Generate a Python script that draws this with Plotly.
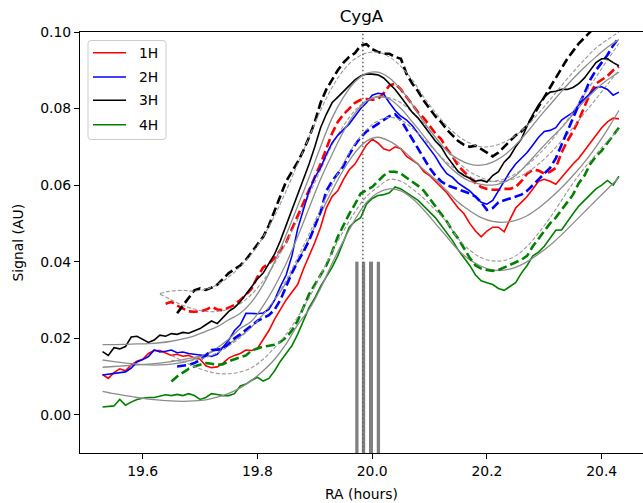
import numpy as np
import plotly.graph_objects as go

# ---------------- sampling grids (RA, hours) ----------------
RA_SOLID = np.round(np.arange(19.53, 20.435, 0.01), 2)      # 91 samples
RA_RED_DASH = np.round(np.arange(19.64, 20.435, 0.01), 2)   # 80
RA_BLK_DASH = np.round(np.arange(19.66, 20.435, 0.01), 2)   # 78
RA_BLU_DASH = np.round(np.arange(19.66, 20.435, 0.01), 2)   # 78
RA_GRN_DASH = np.round(np.arange(19.65, 20.435, 0.01), 2)   # 79
RA_FIT = np.round(np.arange(19.53, 20.44, 0.02), 2)         # 46
RA_FIT_DASH_A = np.round(np.arange(19.63, 20.44, 0.02), 2)  # 41 (1H, 3H)
RA_FIT_DASH_B = np.round(np.arange(19.65, 20.44, 0.02), 2)  # 40 (2H, 4H)

# ---------------- signal values, units of 1e-3 AU ----------------
H1_SOLID = [10.5, 9.5, 11.0, 12.0, 11.5, 13.0, 14.0, 14.5, 16.0, 16.8,
            16.8, 16.2, 15.5, 15.8, 15.3, 15.5, 14.8, 14.5, 12.8, 12.3,
            12.5, 13.5, 14.8, 15.5, 16.0, 16.9, 16.8, 17.3, 19.5, 22.0,
            25.0, 27.5, 30.0, 32.0, 34.0, 38.0, 41.5, 45.0, 49.0, 54.0,
            57.0, 58.5, 61.5, 64.0, 65.5, 68.0, 70.5, 72.0, 71.0, 69.5,
            69.0, 70.0, 69.5, 67.5, 66.5, 65.5, 63.5, 62.5, 61.0, 59.5,
            58.0, 56.0, 54.0, 52.5, 50.0, 48.0, 46.5, 48.0, 49.0, 49.0,
            47.8, 51.0, 54.0, 55.5, 57.0, 59.0, 61.0, 61.5, 61.0, 60.2,
            62.0, 64.0, 65.5, 67.0, 69.0, 71.0, 73.0, 75.0, 76.5, 77.5,
            77.3]
H2_SOLID = [10.4, 10.6, 10.9, 11.0, 11.2, 12.2, 13.8, 14.4, 15.2, 16.9,
            16.4, 16.6, 16.9, 16.2, 16.4, 16.0, 15.8, 15.5, 15.3, 15.2,
            15.8, 17.5, 19.5, 22.0, 23.5, 26.5, 26.5, 26.4, 26.6, 27.5,
            30.0, 33.5, 36.5, 41.5, 48.5, 53.5, 58.5, 62.0, 64.5, 68.0,
            71.0, 73.0, 74.5, 76.0, 78.0, 80.0, 81.5, 83.5, 84.0, 83.8,
            81.5, 79.5, 78.0, 77.0, 75.5, 73.5, 71.5, 69.5, 67.5, 65.0,
            63.0, 62.0, 60.5, 59.5, 58.5, 57.0, 55.5, 55.0, 56.0, 58.5,
            61.0, 63.5, 65.5, 67.0, 68.5, 70.5, 72.5, 74.0, 74.3, 75.0,
            77.0, 78.0, 79.0, 81.0, 82.5, 84.0, 85.5, 85.7, 85.0, 83.5,
            84.3]
H3_SOLID = [16.5, 15.5, 17.5, 17.2, 17.8, 20.3, 20.5, 19.6, 18.9, 19.5,
            20.8, 20.5, 21.2, 21.0, 21.5, 21.3, 21.8, 22.5, 23.5, 24.5,
            23.8, 25.5, 27.0, 28.0, 29.5, 31.5, 33.5, 35.5, 37.0, 39.5,
            42.0, 45.5, 49.5, 53.0, 57.5, 61.5, 65.5, 70.0, 75.0, 78.5,
            81.5, 83.0, 84.5, 86.0, 87.5, 88.5, 89.0, 89.0, 88.8, 88.0,
            86.5, 85.0, 83.0, 81.0, 79.0, 77.5, 75.5, 73.5, 71.5, 70.0,
            67.5, 65.5, 63.5, 62.5, 61.8, 61.0, 61.3, 60.8, 62.5, 63.5,
            66.0, 67.5, 70.0, 72.0, 75.5, 78.5, 81.0, 83.0, 84.3, 84.5,
            85.0, 85.0, 85.5, 86.5, 88.0, 90.0, 92.0, 93.0, 93.0, 92.0,
            91.2]
H4_SOLID = [2.0, 2.2, 2.3, 4.0, 2.5, 3.3, 4.0, 4.3, 4.5, 4.5,
            4.8, 5.2, 5.0, 5.3, 5.0, 5.5, 5.0, 4.0, 4.5, 5.5,
            5.3, 5.0, 5.0, 5.5, 7.5, 8.0, 9.0, 9.8, 8.8, 9.5,
            11.5, 14.0, 16.0, 18.0, 21.0, 24.5, 28.0, 30.5, 33.5, 36.0,
            38.5, 41.5, 45.5, 49.0, 50.5, 51.5, 55.0, 56.5, 57.3, 57.5,
            58.0, 59.5, 59.0, 58.0, 57.0, 56.0, 54.5, 53.0, 51.5, 49.5,
            47.5, 45.5, 43.0, 41.0, 39.0, 36.5, 35.0, 34.5, 34.0, 33.0,
            32.5, 33.5, 34.5, 37.0, 39.0, 41.5, 42.5, 44.0, 46.0, 48.2,
            48.3, 50.5, 52.5, 54.5, 56.0, 57.5, 59.0, 60.0, 61.2, 60.0,
            62.3]

H1_DASH = [29.0, 29.5, 28.5, 27.8, 27.0, 26.9, 27.0, 27.4, 28.2, 27.5,
           27.3, 28.0, 28.7, 30.0, 31.3, 33.0, 36.0, 38.5, 39.5, 41.0,
           43.0, 45.0, 48.5, 52.0, 55.5, 59.0, 62.0, 65.5, 69.5, 73.5,
           76.5, 78.5, 80.0, 81.5, 82.3, 82.5, 82.3, 82.5, 84.0, 86.0,
           86.5, 85.0, 83.0, 81.0, 79.0, 77.5, 75.5, 73.5, 72.0, 69.5,
           67.5, 65.0, 63.5, 62.0, 60.5, 59.5, 59.0, 58.8, 58.8, 59.0,
           59.0, 59.5, 61.0, 63.0, 64.0, 63.8, 63.0, 63.5, 64.5, 68.5,
           71.5, 74.0, 77.0, 80.5, 84.0, 86.5, 87.5, 88.5, 90.0, 91.0]
H3_DASH = [26.5, 28.5, 30.5, 32.5, 33.0, 32.6, 33.2, 34.0, 35.5, 37.0,
           38.0, 39.0, 40.5, 42.5, 44.5, 46.5, 49.5, 53.5, 57.5, 61.0,
           63.5, 66.0, 69.0, 72.5, 76.5, 81.5, 85.0, 87.5, 90.0, 92.0,
           93.5, 94.5, 96.5, 96.8, 95.5, 94.8, 94.3, 94.3, 93.5, 93.0,
           89.0, 86.5, 84.5, 82.0, 80.0, 78.0, 76.5, 74.5, 73.0, 71.5,
           70.5, 70.0, 70.3, 69.5, 68.5, 67.5, 68.5, 70.0, 71.5, 73.0,
           74.0, 75.5, 78.0, 80.5, 83.0, 85.5, 88.0, 90.5, 93.0, 95.0,
           97.0, 98.5, 100.0, 102.0, 104.0, 106.0, 108.0, 110.0]
H2_DASH = [12.6, 12.8, 13.0, 13.5, 14.3, 15.5, 16.9, 17.0, 17.2, 18.5,
           20.0, 21.0, 22.2, 23.5, 24.5, 25.3, 26.0, 27.5, 30.0, 33.5,
           37.0, 40.0, 42.5, 45.5, 49.0, 53.0, 58.5, 61.0, 63.0, 65.0,
           68.0, 70.5, 72.5, 74.0, 75.0, 76.0, 77.0, 78.0, 78.5, 77.0,
           74.5, 72.0, 69.5, 67.0, 64.5, 62.5, 61.0, 60.0, 59.5, 59.0,
           58.5, 57.8, 57.0, 55.5, 53.5, 54.0, 55.5, 56.0, 56.5, 57.0,
           57.5, 58.5, 60.0, 61.5, 63.0, 64.5, 67.0, 70.5, 74.0, 77.5,
           81.0, 84.0, 87.5, 90.0, 92.0, 94.0, 96.5, 98.5]
H4_DASH = [8.7, 10.0, 11.0, 12.0, 12.6, 13.0, 13.5, 13.3, 13.0, 13.2,
           14.0, 14.5, 15.0, 15.5, 16.8, 17.3, 17.8, 18.0, 18.3, 19.0,
           20.2, 22.0, 24.5, 28.0, 31.5, 34.0, 36.5, 39.0, 42.5, 46.5,
           49.5, 52.5, 55.0, 57.8, 58.7, 59.5, 61.0, 62.5, 63.5, 63.5,
           63.0, 62.0, 61.0, 59.8, 58.5, 56.5, 54.5, 52.5, 50.5, 48.0,
           46.0, 43.5, 41.0, 39.0, 38.2, 37.8, 37.6, 37.8, 38.5, 39.0,
           39.8, 40.5, 41.5, 44.0, 46.0, 48.0, 50.0, 51.5, 53.5, 55.5,
           57.5, 60.5, 62.5, 65.5, 67.5, 69.0, 71.0, 73.0, 75.0]

# fitted models (grey)
H1_FIT = [12.4, 12.6, 12.8, 13.0, 13.2, 13.5, 13.9, 14.4, 15.0, 15.8,
          17.0, 18.5, 20.5, 23.0, 26.2, 30.0, 34.5, 40.0, 46.0, 52.5,
          58.5, 64.0, 68.5, 71.5, 72.5, 71.5, 69.5, 66.8, 64.0, 61.5,
          58.5, 55.5, 53.3, 51.5, 50.5, 50.3, 50.8, 52.0, 54.0, 56.5,
          59.3, 62.5, 66.0, 70.0, 74.5, 79.5]
H2_FIT = [14.3, 13.9, 13.5, 13.2, 13.0, 13.0, 13.2, 13.7, 14.5, 15.8,
          17.5, 19.8, 22.5, 24.5, 28.5, 33.5, 39.5, 46.5, 54.0, 61.5,
          68.0, 74.0, 78.8, 82.0, 83.2, 82.5, 80.0, 76.5, 72.8, 69.0,
          65.5, 62.8, 61.0, 60.2, 60.0, 60.8, 62.5, 65.5, 68.8, 72.0,
          75.0, 78.5, 82.0, 85.0, 87.5, 89.5]
H3_FIT = [18.3, 18.3, 18.4, 18.5, 18.6, 18.8, 19.2, 19.8, 20.6, 21.8,
          23.0, 24.8, 26.5, 29.5, 34.0, 40.0, 47.0, 54.5, 62.0, 70.0,
          77.5, 83.0, 87.0, 89.2, 89.5, 88.0, 85.0, 81.0, 76.5, 72.5,
          69.0, 66.8, 65.5, 65.2, 66.0, 67.8, 70.5, 73.8, 77.5, 81.0,
          84.5, 87.8, 90.8, 93.5, 96.0, 98.0]
H4_FIT = [6.1, 5.5, 5.0, 4.5, 4.1, 3.8, 3.6, 3.5, 3.6, 3.9,
          4.6, 5.6, 7.0, 9.0, 11.5, 14.5, 18.5, 23.5, 27.5, 33.0,
          39.5, 45.5, 51.0, 55.5, 58.0, 59.0, 58.5, 56.5, 53.5, 50.0,
          46.5, 43.0, 40.5, 38.8, 37.8, 37.8, 38.5, 40.0, 42.0, 44.3,
          47.0, 50.0, 53.0, 56.0, 59.0, 62.0]
H1_DASH_FIT = [31.5, 30.0, 28.6, 27.6, 27.0, 27.0, 27.6, 29.0, 31.5, 35.0,
               39.5, 45.0, 51.0, 57.5, 64.0, 70.5, 75.5, 79.5, 82.0, 83.0,
               82.8, 81.5, 79.0, 76.0, 72.5, 69.0, 66.0, 63.5, 62.0, 61.0,
               61.0, 61.8, 63.3, 65.5, 68.3, 71.5, 75.0, 78.8, 82.5, 86.3,
               90.0]
H3_DASH_FIT = [31.7, 32.3, 32.5, 32.3, 32.8, 34.0, 36.0, 38.7, 42.0, 46.5,
               52.0, 58.5, 65.5, 72.5, 79.5, 85.5, 90.0, 93.0, 94.5, 94.7,
               93.5, 91.0, 87.5, 83.0, 79.0, 75.5, 72.8, 71.0, 70.0, 70.2,
               71.2, 73.0, 75.5, 78.8, 82.3, 86.0, 89.5, 92.8, 95.8, 98.0,
               100.0]
H2_DASH_FIT = [14.2, 14.0, 14.2, 15.0, 16.2, 18.0, 20.2, 23.0, 26.2, 30.2,
               35.2, 41.0, 47.2, 53.8, 60.0, 65.8, 70.8, 74.5, 76.8, 77.7,
               77.0, 74.8, 72.0, 69.0, 66.0, 63.7, 62.0, 61.2, 61.0, 61.6,
               63.0, 65.2, 68.0, 71.2, 75.0, 79.2, 83.7, 88.2, 92.7, 97.0]
H4_DASH_FIT = [15.5, 14.0, 12.6, 11.5, 10.8, 10.7, 11.2, 12.3, 14.5, 17.5,
               21.0, 25.5, 30.5, 36.5, 42.5, 48.0, 53.0, 57.0, 59.5, 61.5,
               61.0, 59.0, 56.5, 53.5, 50.3, 46.0, 43.0, 41.0, 40.2, 40.3,
               41.5, 44.0, 47.5, 51.5, 56.0, 60.5, 64.5, 68.0, 71.5, 74.5]

# transit markers (RA, hours)
TRANSIT_RA = 19.9837
MARKER_RA = [19.9733, 19.9849, 19.9979, 20.0108]
MARKER_TOP = 0.040

HARMONICS = ["1H", "2H", "3H", "4H"]
TICK_X = [19.6, 19.8, 20.0, 20.2, 20.4]
TICK_X_TEXT = ["19.6", "19.8", "20.0", "20.2", "20.4"]
TICK_Y = [0.0, 0.02, 0.04, 0.06, 0.08, 0.10]
TICK_Y_TEXT = ["0.00", "0.02", "0.04", "0.06", "0.08", "0.10"]

MILLI = 1e-3

# ---------------- figure ----------------
W, H = 643, 503
ML, MR, MT, MB = 80, 0, 32, 50
PW, PH = W - ML - MR, H - MT - MB
FONT = "DejaVu Sans"

def px_x(px):
    return (px - ML) / PW

def px_y(py):
    return (MT + PH - py) / PH

fig = go.Figure()

series = [
    ("#ff0000", RA_SOLID, H1_SOLID, RA_FIT, H1_FIT, RA_RED_DASH, H1_DASH, RA_FIT_DASH_A, H1_DASH_FIT),
    ("#0000ff", RA_SOLID, H2_SOLID, RA_FIT, H2_FIT, RA_BLU_DASH, H2_DASH, RA_FIT_DASH_B, H2_DASH_FIT),
    ("#000000", RA_SOLID, H3_SOLID, RA_FIT, H3_FIT, RA_BLK_DASH, H3_DASH, RA_FIT_DASH_A, H3_DASH_FIT),
    ("#008000", RA_SOLID, H4_SOLID, RA_FIT, H4_FIT, RA_GRN_DASH, H4_DASH, RA_FIT_DASH_B, H4_DASH_FIT),
]

for name, (col, xs, ys, xf, yf, xd, yd, xdf, ydf) in zip(HARMONICS, series):
    fig.add_trace(go.Scatter(x=xs, y=np.array(ys) * MILLI, mode="lines", name=name,
                             line=dict(color=col, width=1.6), showlegend=False))
    fig.add_trace(go.Scatter(x=xf, y=np.array(yf) * MILLI, mode="lines",
                             line=dict(color="#8c8c8c", width=1.3, shape="spline"),
                             showlegend=False))
    fig.add_trace(go.Scatter(x=xd, y=np.array(yd) * MILLI, mode="lines",
                             line=dict(color=col, width=2.6, dash="9px,4px"),
                             showlegend=False))
    fig.add_trace(go.Scatter(x=xdf, y=np.array(ydf) * MILLI, mode="lines",
                             line=dict(color="#999999", width=1.1, dash="4px,2px", shape="spline"),
                             showlegend=False))

for i, ra in enumerate(MARKER_RA):
    fig.add_trace(go.Scatter(x=[ra, ra], y=[-0.02, MARKER_TOP], mode="lines",
                             line=dict(color="#808080", width=4.0 if i == 2 else 3.3),
                             showlegend=False))
fig.add_trace(go.Scatter(x=[TRANSIT_RA, TRANSIT_RA], y=[-0.02, 0.12], mode="lines",
                         line=dict(color="#606060", width=1.5, dash="1.5px,2.5px"),
                         showlegend=False))

# ---- legend (drawn manually to mimic matplotlib box) ----
lx0, lx1, ly0, ly1 = px_x(88), px_x(166), px_y(139.5), px_y(40.5)
rx, ry = 3 / PW, 3 / PH
path = (f"M {lx0+rx},{ly0} L {lx1-rx},{ly0} Q {lx1},{ly0} {lx1},{ly0+ry} "
        f"L {lx1},{ly1-ry} Q {lx1},{ly1} {lx1-rx},{ly1} L {lx0+rx},{ly1} "
        f"Q {lx0},{ly1} {lx0},{ly1-ry} L {lx0},{ly0+ry} Q {lx0},{ly0} {lx0+rx},{ly0} Z")
shapes = [dict(type="path", xref="paper", yref="paper", path=path,
               fillcolor="rgba(255,255,255,0.8)", line=dict(color="#cccccc", width=1))]
annotations = []
legend_rows = [52.7, 77.0, 100.3, 124.7]
for name, (col, *_), py in zip(HARMONICS, series, legend_rows):
    shapes.append(dict(type="line", xref="paper", yref="paper",
                       x0=px_x(93), x1=px_x(126), y0=px_y(py), y1=px_y(py),
                       line=dict(color=col, width=1.6)))
    annotations.append(dict(text=name, xref="paper", yref="paper", x=px_x(137), y=px_y(py),
                            xanchor="left", yanchor="middle", showarrow=False,
                            font=dict(family=FONT, size=13.9, color="#000000")))

annotations.append(dict(text="RA (hours)", xref="paper", yref="paper", x=0.5, y=px_y(494),
                        xanchor="center", yanchor="middle", showarrow=False,
                        font=dict(family=FONT, size=13.9, color="#000000")))
annotations.append(dict(text="Signal (AU)", xref="paper", yref="paper", x=px_x(17), y=0.5,
                        xanchor="center", yanchor="middle", textangle=-90, showarrow=False,
                        font=dict(family=FONT, size=13.9, color="#000000")))

x_left = 19.6 - (142.7 - ML) / 573.75
x_right = x_left + PW / 573.75

fig.update_layout(
    width=W, height=H, autosize=False,
    margin=dict(l=ML, r=MR, t=MT, b=MB, pad=0),
    paper_bgcolor="white", plot_bgcolor="white",
    font=dict(family=FONT, size=13.9, color="#000000"),
    title=dict(text="CygA", x=0.5, xref="paper", xanchor="center",
               y=1 - 16 / H, yref="container", yanchor="middle",
               font=dict(family=FONT, size=16.7, color="#000000")),
    showlegend=False,
    shapes=shapes,
    annotations=annotations,
    xaxis=dict(range=[x_left, x_right], tickvals=TICK_X, ticktext=TICK_X_TEXT,
               ticks="outside", ticklen=5, tickwidth=1, tickcolor="#000000",
               showline=True, linecolor="#000000", linewidth=1, mirror=True,
               showgrid=False, zeroline=False,
               tickfont=dict(family=FONT, size=13.9, color="#000000")),
    yaxis=dict(range=[-0.01, 0.10], tickvals=TICK_Y, ticktext=TICK_Y_TEXT,
               ticks="outside", ticklen=5, tickwidth=1, tickcolor="#000000",
               showline=True, linecolor="#000000", linewidth=1, mirror=False,
               showgrid=False, zeroline=False,
               tickfont=dict(family=FONT, size=13.9, color="#000000")),
)

fig.write_html("out.html")
